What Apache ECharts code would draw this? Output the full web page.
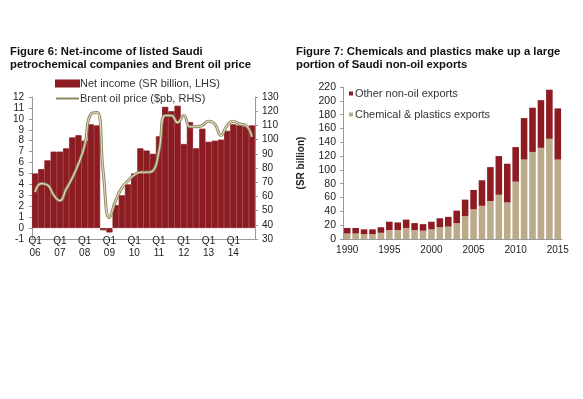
<!DOCTYPE html>
<html>
<head>
<meta charset="utf-8">
<script src="https://cdn.jsdelivr.net/npm/echarts@6/dist/echarts.min.js"></script>
<style>
html,body{margin:0;padding:0;background:#fff;}
#c{width:583px;height:399px;}
</style>
</head>
<body>
<div id="c"></div>
<script>
// ---- Figure 6 data ----
var quarters = ['Q1 06','Q2 06','Q3 06','Q4 06','Q1 07','Q2 07','Q3 07','Q4 07',
  'Q1 08','Q2 08','Q3 08','Q4 08','Q1 09','Q2 09','Q3 09','Q4 09',
  'Q1 10','Q2 10','Q3 10','Q4 10','Q1 11','Q2 11','Q3 11','Q4 11',
  'Q1 12','Q2 12','Q3 12','Q4 12','Q1 13','Q2 13','Q3 13','Q4 13',
  'Q1 14','Q2 14','Q3 14','Q4 14'];
var netIncome = [5.0,5.4,6.2,7.0, 7.0,7.3,8.3,8.5, 8.0,9.5,9.4,-0.2,
  -0.4,2.1,3.0,4.0, 5.0,7.3,7.1,6.8, 8.4,11.1,10.7,11.2,
  7.7,9.7,7.3,9.1, 7.9,8.0,8.1,8.9, 9.5,9.4,9.3,9.4];
var brent = [63,69,68,61, 57,65,73,83, 96,118,119,77,
  45,57,66,71, 75,77,77,78, 92,117,117,112,
  117,109,109,110, 113,111,103,110, 113,111,110,102];
var leftTicks = [-1,12,1];   // min, max, interval (LHS)
var rightTicks = [30,130,10]; // min, max, interval (RHS)

// ---- Figure 7 data ----
var years = ['1990','1991','1992','1993','1994','1995','1996','1997','1998','1999',
  '2000','2001','2002','2003','2004','2005','2006','2007','2008','2009',
  '2010','2011','2012','2013','2014','2015'];
var chemExports = [8,8,7,7,9,13,13,16,13,12,14,17,18,23,33,43,48,55,64,53,83,115,126,132,145,115];
var otherExports = [8,8,7,7,8,12,11,12,10,9.5,11,13,14,18,24,28,37,49,56,56,50,60,64,69,71,74];
var exportTicks = [0,220,20];

var FONT = 'Liberation Sans, Arial, sans-serif';
var MAROON = '#8c1b22';
var TAN = '#bcab8b';
var AXIS = '#9a9a9a';
var OLIVE = '#8c8663';

var chart = echarts.init(document.getElementById('c'));
chart.setOption({
  animation: false,
  textStyle: {fontFamily: FONT},
  title: [
    {text: 'Figure 6: Net-income of listed Saudi\npetrochemical companies and Brent oil price',
     left: 10, top: 46, padding: 0,
     textStyle: {fontFamily: FONT, fontSize: 11.3, fontWeight: 'bold', color: '#111', lineHeight: 12.5}},
    {text: 'Figure 7: Chemicals and plastics make up a large\nportion of Saudi non-oil exports',
     left: 296, top: 46, padding: 0,
     textStyle: {fontFamily: FONT, fontSize: 11.3, fontWeight: 'bold', color: '#111', lineHeight: 12.5}}
  ],
  legend: [
    {orient: 'vertical', left: 55, top: 78, padding: 0, itemWidth: 23, itemHeight: 6, itemGap: 4,
     data: [{name: 'Net income (SR billion, LHS)', icon: 'rect'},
            {name: 'Brent oil price ($pb, RHS)', itemStyle: {opacity: 0}}],
     textStyle: {fontFamily: FONT, fontSize: 11, color: '#333', padding: [0,0,0,-4]}},
    {orient: 'vertical', left: 349, top: 88, padding: 0, itemWidth: 4, itemHeight: 4, itemGap: 10,
     data: ['Other non-oil exports', 'Chemical & plastics exports'],
     icon: 'rect',
     textStyle: {fontFamily: FONT, fontSize: 11, color: '#333', padding: [0,0,0,-3]}}
  ],
  grid: [
    {left: 32, top: 97, width: 223, height: 142},
    {left: 343, top: 87, width: 219, height: 152}
  ],
  xAxis: [
    {type: 'category', gridIndex: 0, data: quarters, boundaryGap: true,
     axisLine: {onZero: false, lineStyle: {color: AXIS}},
     axisTick: {interval: 3, length: 3, lineStyle: {color: AXIS}},
     axisLabel: {interval: 3, margin: -4, fontSize: 10, lineHeight: 12, color: '#222',
       formatter: function (v) { return v.replace(' ', '\n'); }}},
    {type: 'category', gridIndex: 1, data: years,
     axisLine: {lineStyle: {color: AXIS}},
     axisTick: {interval: 4, length: 3, lineStyle: {color: AXIS}},
     axisLabel: {interval: 4, margin: 6, fontSize: 10, color: '#222'}}
  ],
  yAxis: [
    {type: 'value', gridIndex: 0, min: leftTicks[0], max: leftTicks[1], interval: leftTicks[2],
     axisLine: {show: true, lineStyle: {color: AXIS}},
     axisTick: {show: true, length: 3, lineStyle: {color: AXIS}},
     splitLine: {show: false},
     axisLabel: {fontSize: 10, color: '#222', margin: 8}},
    {type: 'value', gridIndex: 0, position: 'right', min: rightTicks[0], max: rightTicks[1], interval: rightTicks[2],
     axisLine: {show: true, lineStyle: {color: AXIS}},
     axisTick: {show: true, length: 3, lineStyle: {color: AXIS}},
     splitLine: {show: false},
     axisLabel: {fontSize: 10, color: '#222', margin: 7}},
    {type: 'value', gridIndex: 1, min: exportTicks[0], max: exportTicks[1], interval: exportTicks[2],
     name: '(SR billion)', nameLocation: 'middle', nameGap: 37, nameRotate: 90,
     nameTextStyle: {fontFamily: FONT, fontSize: 10, fontWeight: 'bold', color: '#222'},
     axisLine: {show: true, lineStyle: {color: AXIS}},
     axisTick: {show: true, length: 3, lineStyle: {color: AXIS}},
     splitLine: {show: false},
     axisLabel: {fontSize: 10.5, color: '#222', margin: 7}}
  ],
  series: [
    {name: 'Net income (SR billion, LHS)', type: 'bar', xAxisIndex: 0, yAxisIndex: 0,
     data: netIncome, barCategoryGap: '0%',
     itemStyle: {color: MAROON, borderColor: MAROON, borderWidth: 0.8}},
    {name: 'Brent oil price ($pb, RHS)', type: 'line', xAxisIndex: 0, yAxisIndex: 1,
     data: brent, smooth: 0.5, symbol: 'none',
     lineStyle: {color: OLIVE, width: 3}, itemStyle: {color: OLIVE}, z: 3},
    {name: 'Brent highlight', type: 'line', xAxisIndex: 0, yAxisIndex: 1,
     data: brent, smooth: 0.5, symbol: 'none',
     lineStyle: {color: '#e8dcc0', width: 1.1}, z: 4, silent: true},
    {name: 'Chemical & plastics exports', type: 'bar', stack: 'exp', xAxisIndex: 1, yAxisIndex: 2,
     data: chemExports, barCategoryGap: '22%', itemStyle: {color: TAN}},
    {name: 'Other non-oil exports', type: 'bar', stack: 'exp', xAxisIndex: 1, yAxisIndex: 2,
     data: otherExports, barCategoryGap: '22%', itemStyle: {color: MAROON}}
  ]
});
</script>
</body>
</html>
